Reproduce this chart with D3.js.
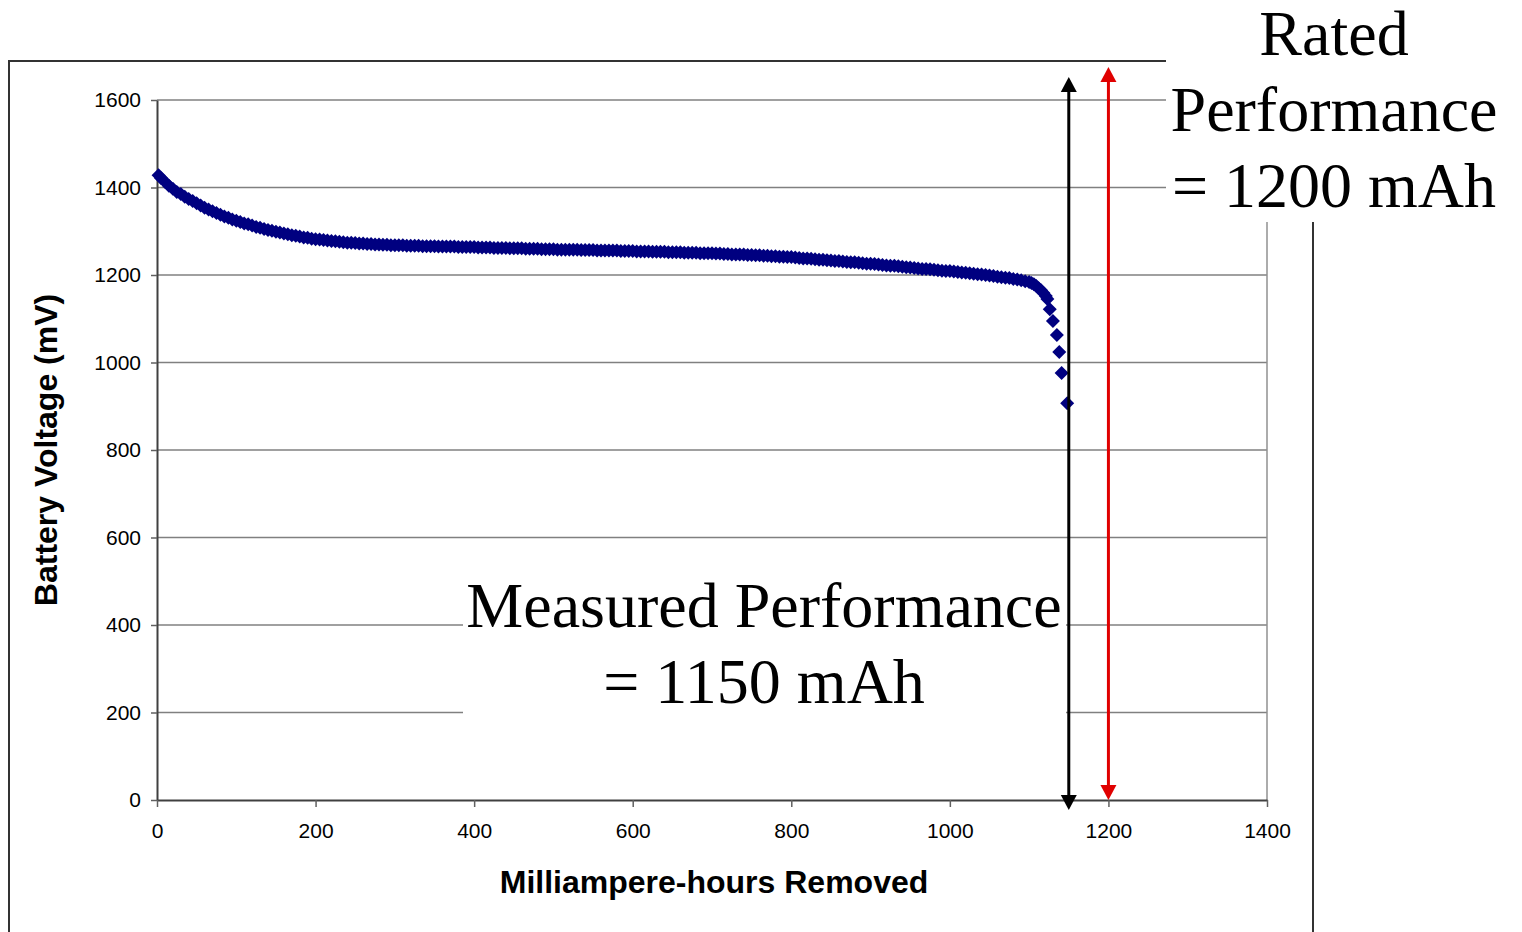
<!DOCTYPE html>
<html>
<head>
<meta charset="utf-8">
<script src="https://cdn.jsdelivr.net/npm/d3@7"></script>
<style>
  body { margin: 0; background: #fff; }
  svg { display: block; }
</style>
</head>
<body>
<svg id="chart"></svg>
<script>
// readings (mAh removed -> mV)
const mahRemoved = [
  2, 5, 10, 15, 20, 25, 30, 35, 40, 45, 50, 55, 60, 65, 70, 75, 80, 85, 90, 95, 100,
  105, 110, 115, 120, 125, 130, 135, 140, 145, 150, 155, 160, 165, 170, 175, 180, 185, 190, 195, 200,
  205, 210, 215, 220, 225, 230, 235, 240, 245, 250, 255, 260, 265, 270, 275, 280, 285, 290, 295, 300,
  305, 310, 315, 320, 325, 330, 335, 340, 345, 350, 355, 360, 365, 370, 375, 380, 385, 390, 395, 400,
  405, 410, 415, 420, 425, 430, 435, 440, 445, 450, 455, 460, 465, 470, 475, 480, 485, 490, 495, 500,
  505, 510, 515, 520, 525, 530, 535, 540, 545, 550, 555, 560, 565, 570, 575, 580, 585, 590, 595, 600,
  605, 610, 615, 620, 625, 630, 635, 640, 645, 650, 655, 660, 665, 670, 675, 680, 685, 690, 695, 700,
  705, 710, 715, 720, 725, 730, 735, 740, 745, 750, 755, 760, 765, 770, 775, 780, 785, 790, 795, 800,
  805, 810, 815, 820, 825, 830, 835, 840, 845, 850, 855, 860, 865, 870, 875, 880, 885, 890, 895, 900,
  905, 910, 915, 920, 925, 930, 935, 940, 945, 950, 955, 960, 965, 970, 975, 980, 985, 990, 995, 1000,
  1005, 1010, 1015, 1020, 1025, 1030, 1035, 1040, 1045, 1050, 1055, 1060, 1065, 1070, 1075, 1080, 1085, 1090, 1095, 1100,
  1103, 1106, 1109, 1112, 1115, 1118, 1121, 1123, 1126, 1130, 1135, 1138, 1141, 1148
];
const voltage = [
  1428, 1422, 1413, 1404, 1397, 1390, 1385, 1379, 1374, 1369, 1364, 1359, 1354, 1350, 1346, 1342, 1338, 1334, 1331, 1327, 1324,
  1321, 1318, 1316, 1313, 1310, 1308, 1305, 1303, 1301, 1299, 1297, 1295, 1293, 1291, 1290, 1288, 1286, 1285, 1283, 1282,
  1281, 1280, 1279, 1278, 1277, 1276, 1275, 1274, 1274, 1273, 1272, 1272, 1271, 1271, 1270, 1270, 1269, 1269, 1268, 1268,
  1268, 1268, 1267, 1267, 1267, 1267, 1266, 1266, 1266, 1266, 1265, 1265, 1265, 1265, 1265, 1264, 1264, 1264, 1264, 1264,
  1263, 1263, 1263, 1263, 1262, 1262, 1262, 1262, 1261, 1261, 1261, 1261, 1260, 1260, 1260, 1260, 1259, 1259, 1259, 1259,
  1258, 1258, 1258, 1258, 1258, 1258, 1257, 1257, 1257, 1257, 1256, 1256, 1256, 1256, 1256, 1256, 1255, 1255, 1255, 1255,
  1254, 1254, 1254, 1254, 1253, 1253, 1253, 1253, 1252, 1252, 1252, 1252, 1251, 1251, 1251, 1251, 1250, 1250, 1250, 1250,
  1249, 1249, 1248, 1248, 1247, 1247, 1247, 1247, 1246, 1246, 1245, 1245, 1244, 1244, 1243, 1243, 1242, 1242, 1241, 1241,
  1240, 1239, 1238, 1238, 1237, 1236, 1235, 1235, 1234, 1233, 1232, 1232, 1231, 1230, 1229, 1229, 1228, 1227, 1226, 1226,
  1225, 1224, 1223, 1222, 1221, 1221, 1220, 1219, 1218, 1217, 1216, 1215, 1214, 1214, 1213, 1212, 1211, 1210, 1209, 1209,
  1208, 1207, 1206, 1205, 1204, 1203, 1202, 1201, 1200, 1199, 1198, 1196, 1195, 1194, 1193, 1191, 1190, 1188, 1186, 1184,
  1182, 1179, 1175, 1170, 1165, 1159, 1152, 1145, 1122, 1095, 1063, 1024, 976, 907
];
const xTicks = [0, 200, 400, 600, 800, 1000, 1200, 1400];
const yTicks = [0, 200, 400, 600, 800, 1000, 1200, 1400, 1600];
const measuredCapacity = 1150;
const ratedCapacity = 1200;
const measuredLines = ["Measured Performance", "= 1150 mAh"];
const ratedLines = ["Rated", "Performance", "= 1200 mAh"];

const width = 1522, height = 932;
const data = mahRemoved.map((m, i) => ({ mah: m, mv: voltage[i] }));

const svg = d3.select("#chart").attr("width", width).attr("height", height);

const x = d3.scaleLinear().domain([0, 1400]).range([157, 1267]);
const y = d3.scaleLinear().domain([0, 1600]).range([800, 100]);

// outer chart frame
svg.append("rect")
  .attr("x", 9).attr("y", 61).attr("width", 1304).attr("height", 900)
  .attr("fill", "none").attr("stroke", "#333").attr("stroke-width", 2);

// gridlines
svg.append("g").selectAll("line")
  .data(yTicks.filter(d => d > 0))
  .join("line")
  .attr("x1", x(0)).attr("x2", x(1400))
  .attr("y1", d => y(d)).attr("y2", d => y(d))
  .attr("stroke", "#808080").attr("stroke-width", 1.5);

// plot area right border
svg.append("line")
  .attr("x1", x(1400)).attr("x2", x(1400))
  .attr("y1", y(1600)).attr("y2", y(0))
  .attr("stroke", "#909090").attr("stroke-width", 1.5);

// axes
const yAxis = svg.append("g")
  .attr("transform", `translate(${x(0)},0)`)
  .call(d3.axisLeft(y).tickValues(yTicks).tickFormat(d3.format("d"))
    .tickSize(6).tickPadding(10).tickSizeOuter(0));
const xAxis = svg.append("g")
  .attr("transform", `translate(0,${y(0)})`)
  .call(d3.axisBottom(x).tickValues(xTicks).tickFormat(d3.format("d"))
    .tickSize(7).tickPadding(16).tickSizeOuter(0));

[xAxis, yAxis].forEach(g => {
  g.select(".domain").attr("stroke", "#404040").attr("stroke-width", 2);
  g.selectAll(".tick line").attr("stroke", "#606060").attr("stroke-width", 1.5);
  g.selectAll(".tick text")
    .attr("fill", "#000")
    .style("font-family", "'Liberation Sans', Arial, sans-serif")
    .style("font-size", "21px");
});

// axis titles
svg.append("text")
  .attr("x", 714).attr("y", 893)
  .attr("text-anchor", "middle")
  .style("font-family", "'Liberation Sans', Arial, sans-serif")
  .style("font-weight", "bold")
  .style("font-size", "32px")
  .text("Milliampere-hours Removed");

svg.append("text")
  .attr("transform", "translate(57,450) rotate(-90)")
  .attr("text-anchor", "middle")
  .style("font-family", "'Liberation Sans', Arial, sans-serif")
  .style("font-weight", "bold")
  .style("font-size", "32px")
  .text("Battery Voltage (mV)");

// discharge points, diamonds
const r = 7;
svg.append("g").selectAll("path")
  .data(data)
  .join("path")
  .attr("transform", d => `translate(${x(d.mah)},${y(d.mv)})`)
  .attr("d", `M0,${-r}L${r},0L0,${r}L${-r},0Z`)
  .attr("fill", "#000080");

// measured performance text box
const mBox = svg.append("g");
mBox.append("rect")
  .attr("x", 463).attr("y", 568).attr("width", 603).attr("height", 152)
  .attr("fill", "#fff");
mBox.selectAll("text")
  .data(measuredLines)
  .join("text")
  .attr("x", 764).attr("y", (d, i) => 627 + i * 76)
  .attr("text-anchor", "middle")
  .style("font-family", "'Liberation Serif', 'Times New Roman', serif")
  .style("font-size", "64px")
  .text(d => d);

// rated performance text box
const rBox = svg.append("g");
rBox.append("rect")
  .attr("x", 1166).attr("y", 0).attr("width", 356).attr("height", 222)
  .attr("fill", "#fff");
rBox.selectAll("text")
  .data(ratedLines)
  .join("text")
  .attr("x", 1334).attr("y", (d, i) => 55 + i * 76)
  .attr("text-anchor", "middle")
  .style("font-family", "'Liberation Serif', 'Times New Roman', serif")
  .style("font-size", "64px")
  .text(d => d);

// double-headed arrows
function arrow(cx, topY, botY, color) {
  const g = svg.append("g");
  const head = 15, half = 8;
  g.append("line")
    .attr("x1", cx).attr("x2", cx)
    .attr("y1", topY + head - 2).attr("y2", botY - head + 2)
    .attr("stroke", color).attr("stroke-width", 3);
  g.append("path")
    .attr("d", `M${cx},${topY}L${cx + half},${topY + head}L${cx - half},${topY + head}Z`)
    .attr("fill", color);
  g.append("path")
    .attr("d", `M${cx},${botY}L${cx + half},${botY - head}L${cx - half},${botY - head}Z`)
    .attr("fill", color);
}
arrow(x(measuredCapacity), 77, 810, "#000");
arrow(x(ratedCapacity), 67, 800, "#e00000");
</script>
</body>
</html>
